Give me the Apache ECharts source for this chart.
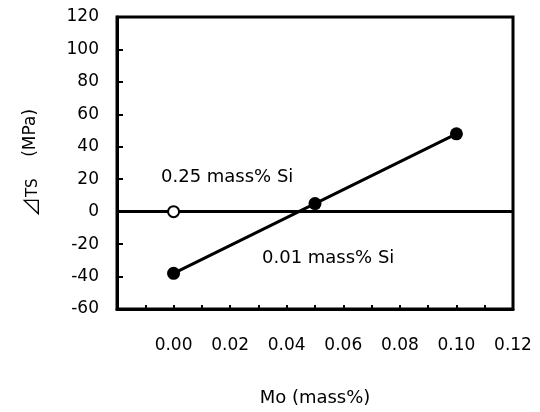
<!DOCTYPE html>
<html lang="en">
<head>
  <meta charset="UTF-8">
  <title>dTS vs Mo</title>
  <script src="https://cdn.jsdelivr.net/npm/echarts@6/dist/echarts.min.js"></script>
  <style>
    html, body { margin: 0; padding: 0; background: #fff; }
    #target { width: 540px; height: 412px; }
  </style>
</head>
<body>
  <div id="target"></div>
  <script type="text/javascript">
    // 0.01 mass% Si (filled)
    const moLowSi = [0.00, 0.05, 0.10];
    const dtsLowSi = [-38, 5, 48];
    // 0.25 mass% Si (open)
    const moHighSi = [0.00];
    const dtsHighSi = [0];

    const font = '"DejaVu Sans", sans-serif';

    const option = {
      backgroundColor: '#fff',
      animation: false,
      grid: {
        left: 117, right: 27, top: 17, bottom: 100,
        show: true, borderColor: '#000', borderWidth: 3
      },
      xAxis: {
        type: 'value',
        min: -0.02, max: 0.12, interval: 0.01,
        name: 'Mo (mass%)',
        nameLocation: 'middle',
        nameGap: 80,
        nameTextStyle: { fontFamily: font, fontSize: 18, color: '#000' },
        axisLine: { onZero: false, lineStyle: { color: '#000', width: 3 } },
        axisTick: { inside: true, length: 4, lineStyle: { color: '#000', width: 2 } },
        splitLine: { show: false },
        axisLabel: {
          margin: 28,
          fontFamily: font, fontSize: 17, color: '#000',
          formatter: function (v) {
            const k = Math.round(v * 100);
            return (k >= 0 && k % 2 === 0) ? v.toFixed(2) : '';
          }
        }
      },
      yAxis: {
        type: 'value',
        min: -60, max: 120, interval: 20,
        name: '{d|⊿}{s|TS}{g|    }{m|(MPa)}',
        nameLocation: 'middle',
        nameRotate: 90,
        nameGap: 76,
        nameTextStyle: {
          color: '#000',
          rich: {
            d: { fontFamily: '"Noto Sans CJK JP", "DejaVu Sans"', fontSize: 20, color: '#000' },
            s: { fontFamily: font, fontSize: 15, color: '#000', padding: [4, 0, 0, 0] },
            g: { fontFamily: font, fontSize: 17 },
            m: { fontFamily: font, fontSize: 17, color: '#000' }
          }
        },
        axisLine: { onZero: false, lineStyle: { color: '#000', width: 3 } },
        axisTick: { inside: true, length: 6, lineStyle: { color: '#000', width: 2 } },
        splitLine: { show: false },
        axisLabel: { margin: 18, fontFamily: font, fontSize: 17, color: '#000' }
      },
      graphic: [
        {
          type: 'text', left: 161, top: 168,
          style: { text: '0.25 mass% Si', font: '18px ' + font, fill: '#000' }
        },
        {
          type: 'text', left: 262, top: 249,
          style: { text: '0.01 mass% Si', font: '18px ' + font, fill: '#000' }
        }
      ],
      series: [
        {
          type: 'line',
          data: moLowSi.map((m, i) => [m, dtsLowSi[i]]),
          symbol: 'circle',
          symbolSize: 13,
          lineStyle: { color: '#000', width: 3 },
          itemStyle: { color: '#000' },
          z: 3
        },
        {
          type: 'scatter',
          data: moHighSi.map((m, i) => [m, dtsHighSi[i]]),
          symbol: 'circle',
          symbolSize: 11,
          itemStyle: { color: '#fff', borderColor: '#000', borderWidth: 2, opacity: 1 },
          z: 5,
          markLine: {
            silent: true,
            symbol: 'none',
            z: 2,
            label: { show: false },
            lineStyle: { color: '#000', width: 3, type: 'solid' },
            data: [{ yAxis: 0 }]
          }
        }
      ]
    };
    echarts.init(document.getElementById('target')).setOption(option);
  </script>
</body>
</html>
